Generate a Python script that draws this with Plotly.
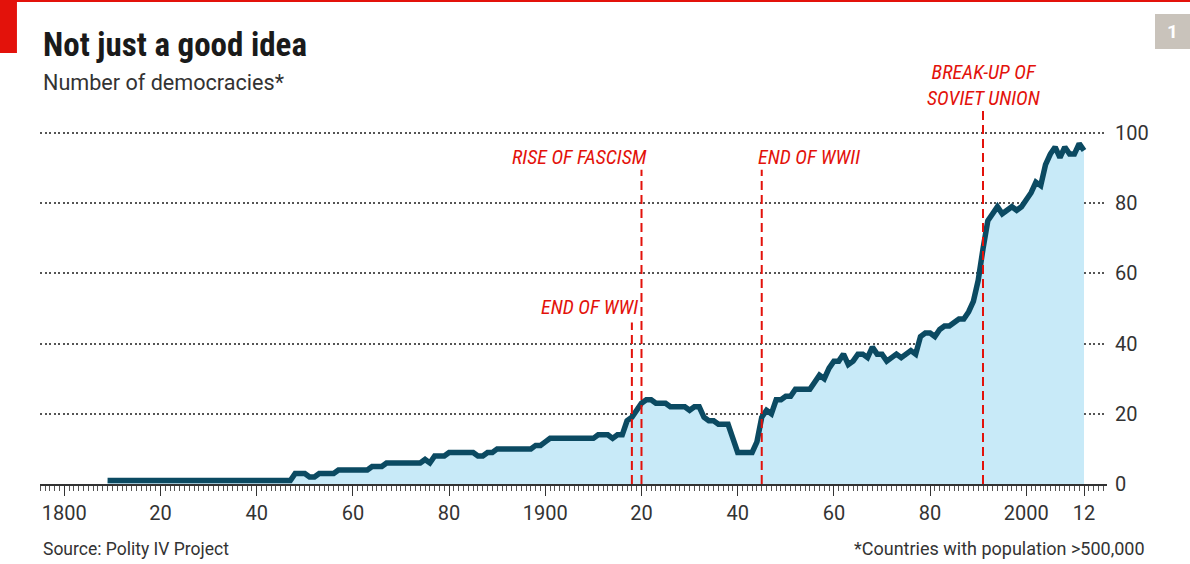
import plotly.graph_objects as go

# ---- data ----
years = list(range(1809, 2013))
democracies = (
    [1]
    + [1, 1, 1, 1, 1, 1, 1, 1, 1, 1]            # 1810s
    + [1, 1, 1, 1, 1, 1, 1, 1, 1, 1]            # 1820s
    + [1, 1, 1, 1, 1, 1, 1, 1, 1, 1]            # 1830s
    + [1, 1, 1, 1, 1, 1, 1, 1, 3, 3]            # 1840s
    + [3, 2, 2, 3, 3, 3, 3, 4, 4, 4]            # 1850s
    + [4, 4, 4, 4, 5, 5, 5, 6, 6, 6]            # 1860s
    + [6, 6, 6, 6, 6, 7, 6, 8, 8, 8]            # 1870s
    + [9, 9, 9, 9, 9, 9, 8, 8, 9, 9]            # 1880s
    + [10, 10, 10, 10, 10, 10, 10, 10, 11, 11]  # 1890s
    + [12, 13, 13, 13, 13, 13, 13, 13, 13, 13]  # 1900s
    + [13, 14, 14, 14, 13, 14, 14, 18, 19, 21]  # 1910s
    + [23, 24, 24, 23, 23, 23, 22, 22, 22, 22]  # 1920s
    + [21, 22, 22, 19, 18, 18, 17, 17, 17, 13]  # 1930s
    + [9, 9, 9, 9, 12, 19, 21, 20, 24, 24]      # 1940s
    + [25, 25, 27, 27, 27, 27, 29, 31, 30, 33]  # 1950s
    + [35, 35, 37, 34, 35, 37, 37, 36, 39, 37]  # 1960s
    + [37, 35, 36, 37, 36, 37, 38, 37, 42, 43]  # 1970s
    + [43, 42, 44, 45, 45, 46, 47, 47, 49, 52]  # 1980s
    + [58, 67, 75, 77, 79, 77, 78, 79, 78, 79]  # 1990s
    + [81, 83, 86, 85, 91, 94, 96, 93, 96, 94]  # 2000s
    + [94, 97, 95]                               # 2010s
)

x_tick_vals = [1800, 1820, 1840, 1860, 1880, 1900, 1920, 1940, 1960, 1980, 2000, 2012]
x_tick_text = ["1800", "20", "40", "60", "80", "1900", "20", "40", "60", "80", "2000", "12"]
y_tick_vals = [0, 20, 40, 60, 80, 100]

event_years = [1918, 1920, 1945, 1991]
event_labels = ["END OF WWI", "RISE OF FASCISM", "END OF WWII", "BREAK-UP OF<br>SOVIET UNION"]

# ---- styles ----
RED = "#e3120b"
LINE = "#0b4a62"
FILL = "#c8eaf8"
TXT = "#333333"
SANS = "Roboto, Lato, sans-serif"
NARROW = "Liberation Sans Narrow, Arial Narrow, Roboto Condensed, sans-serif"

event_line_tops = [46, 89.5, 89.5, 106.5]
event_label_y = [50.4, 93.2, 93.2, 113.6]
event_anchor = ["right", "right", "left", "center"]
event_shift = [8, 8, -6, 0]

fig = go.Figure()
fig.add_trace(go.Scatter(
    x=years, y=democracies, mode="lines",
    line=dict(color=LINE, width=5.5, shape="linear"),
    fill="tozeroy", fillcolor=FILL, hoverinfo="skip", showlegend=False,
))

shapes = []
for yr, top in zip(event_years, event_line_tops):
    shapes.append(dict(type="line", xref="x", yref="y", x0=yr, x1=yr, y0=0, y1=top,
                       line=dict(color=RED, width=2, dash="9px,5px"), layer="above"))

# red top rule and corner tag
shapes.append(dict(type="rect", xref="paper", yref="paper", x0=-0.05, x1=1.12,
                   y0=1.137, y1=1.16, fillcolor=RED, line_width=0, layer="above"))
shapes.append(dict(type="rect", xref="paper", yref="paper", x0=-0.05, x1=-0.0216,
                   y0=1.0165, y1=1.16, fillcolor=RED, line_width=0, layer="above"))
# grey chart number box
shapes.append(dict(type="rect", xref="paper", yref="paper", x0=1.045, x1=1.08,
                   y0=1.026, y1=1.1085, fillcolor="#c9c3bb", line_width=0, layer="above"))

annotations = []
for yr, lab, ly, anc, sh in zip(event_years, event_labels, event_label_y, event_anchor, event_shift):
    annotations.append(dict(x=yr, y=ly, xref="x", yref="y", text="<i>" + lab + "</i>",
                            showarrow=False, xanchor=anc, yanchor="middle", xshift=sh,
                            align="center", font=dict(family=NARROW, size=20, color=RED)))

annotations += [
    dict(x=0.001, y=1.0377, xref="paper", yref="paper", text="<b>Not just a good idea</b>",
         showarrow=False, xanchor="left", yanchor="middle",
         font=dict(family=NARROW, size=33, color="#1a1a1a")),
    dict(x=0.001, y=0.9458, xref="paper", yref="paper", text="Number of democracies*",
         showarrow=False, xanchor="left", yanchor="middle",
         font=dict(family=SANS, size=21.6, color=TXT)),
    dict(x=0.001, y=-0.153, xref="paper", yref="paper", text="Source: Polity IV Project",
         showarrow=False, xanchor="left", yanchor="middle",
         font=dict(family=SANS, size=17.5, color=TXT)),
    dict(x=1.0375, y=-0.153, xref="paper", yref="paper", text="*Countries with population >500,000",
         showarrow=False, xanchor="right", yanchor="middle",
         font=dict(family=SANS, size=18, color=TXT)),
    dict(x=1.0614, y=1.0672, xref="paper", yref="paper", text="<b>1</b>",
         showarrow=False, xanchor="center", yanchor="middle",
         font=dict(family=SANS, size=19, color="white")),
]

fig.update_layout(
    width=1190, height=564,
    margin=dict(l=40, r=83, t=60, b=80),
    paper_bgcolor="white", plot_bgcolor="white",
    shapes=shapes, annotations=annotations,
    showlegend=False,
    xaxis=dict(
        range=[1794.95, 2016.78], tickvals=x_tick_vals, ticktext=x_tick_text,
        showgrid=False, zeroline=False, showline=True, linecolor="#333", linewidth=1.5,
        ticks="outside", ticklen=10, tickwidth=1.2, tickcolor="#333",
        minor=dict(dtick=1, tick0=1800, ticks="outside", ticklen=5, tickwidth=1, tickcolor="#555"),
        tickfont=dict(family=SANS, size=20, color=TXT),
        fixedrange=True,
    ),
    yaxis=dict(
        range=[0, 120.8], tickvals=y_tick_vals, side="right",
        showgrid=True, gridcolor="#555", gridwidth=1.6, griddash="2px,2.5px",
        zeroline=False, showline=False, ticks="", ticklabelstandoff=7,
        tickfont=dict(family=SANS, size=20, color=TXT),
        fixedrange=True,
    ),
)

fig.write_html("out.html", config={"displayModeBar": False},
               post_script="document.body.style.margin='0px';")
